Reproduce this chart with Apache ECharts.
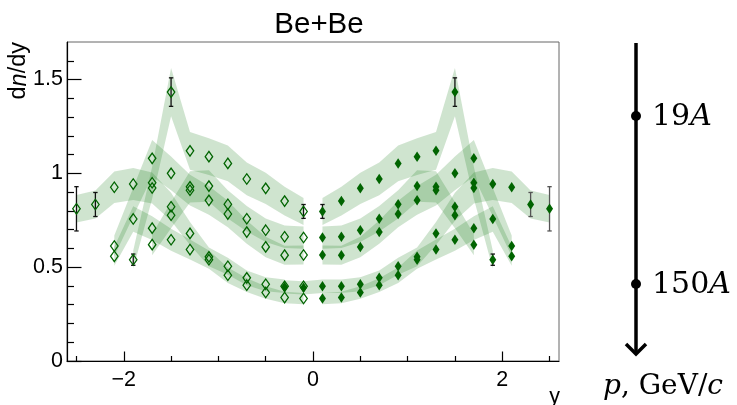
<!DOCTYPE html>
<html>
<head>
<meta charset="utf-8">
<script src="https://cdn.jsdelivr.net/npm/echarts@6/dist/echarts.min.js"></script>
<style>
  html, body { margin: 0; padding: 0; background: #fff; }
  #chart { width: 737px; height: 405px; }
</style>
</head>
<body>
<div id="chart"></div>
<script>
// Rapidity bin centres of the forward-hemisphere measurements
const rapidity = [0.1, 0.3, 0.5, 0.7, 0.9, 1.1, 1.3, 1.5, 1.7, 1.9, 2.1, 2.3, 2.5];

// dn/dy of the five data sets, aligned with rapidity (null = no point)
const curve1 = [0.797, 0.852, 0.920, 0.970, 1.053, 1.089, 1.120, 1.433, 0.950, 0.540, null, null, null];
const curve2 = [0.658, 0.662, 0.697, 0.758, 0.835, 0.932, 0.928, 0.777, 0.620, null, null, null, null];
const curve3 = [0.565, 0.564, 0.608, 0.687, 0.783, 0.856, 0.910, 1.000, 1.080, null, 0.613, null, null];
const curve4 = [0.398, 0.398, 0.409, 0.443, 0.505, 0.555, 0.680, 0.822, 0.922, 0.943, 0.926, 0.834, 0.811];
const curve5 = [0.333, 0.338, 0.365, 0.404, 0.457, 0.540, 0.594, 0.646, 0.708, 0.757, 0.558, null, null];

// Data set 4 is also measured slightly below midrapidity
const backwardRapidity = [-0.3, -0.1];
const curve4Backward = [0.395, 0.390];

// Statistical errors drawn as bars (null = no bar)
const curve1Err = [0.037, null, null, null, null, null, null, 0.076, null, 0.030, null, null, null];
const curve4Err = [null, null, null, null, null, null, null, null, null, null, null, 0.064, 0.118];

// Relative systematic uncertainty, drawn as the shaded band
const sysRel = 0.09;

// Axis ticks
const xMajorTicks = [-2, 0, 2];
const xMinorTicks = [-2.5, -1.5, -1, -0.5, 0.5, 1, 1.5, 2.5];
const yMajorTicks = [0, 0.5, 1, 1.5];
const yMinorTicks = [0.1, 0.2, 0.3, 0.4, 0.6, 0.7, 0.8, 0.9, 1.1, 1.2, 1.3, 1.4, 1.6];

// Beam momenta marked on the side scale
const momenta = ['19', '150'];

const markColor = '#006400';
const bandColor = 'rgba(0, 110, 0, 0.19)';
const sans = 'Liberation Sans, Arial, sans-serif';
const serif = 'DejaVu Serif, serif';

function pairs(xs, ys) {
  return xs.map((x, i) => [x, ys[i]]).filter(p => p[1] !== null);
}
function mirror(pts) {
  return pts.map(p => [-p[0], p[1]]);
}

const sets = [curve1, curve2, curve3, curve4, curve5];
const forward = sets.map(c => pairs(rapidity, c));
forward[3] = pairs(backwardRapidity, curve4Backward).concat(forward[3]);
const reflected = sets.map(c => mirror(pairs(rapidity, c)));

// bands: forward side and reflected side of each set
const bandSets = [];
sets.forEach((c, k) => {
  bandSets.push(forward[k]);
  let refl = pairs(rapidity, c);
  if (k === 3) refl = refl.filter(p => p[0] >= 0.3);
  bandSets.push(mirror(refl));
});

function bandSeries(pts) {
  return {
    type: 'custom',
    silent: true,
    z: 1,
    encode: { x: 0, y: 1 },
    data: pts,
    renderItem: function (params, api) {
      if (params.dataIndex !== 0) return null;
      const upper = pts.map(p => api.coord([p[0], p[1] * (1 + sysRel)]));
      const lower = pts.map(p => api.coord([p[0], p[1] * (1 - sysRel)])).reverse();
      return {
        type: 'polygon',
        shape: { points: upper.concat(lower) },
        style: { fill: bandColor }
      };
    }
  };
}

function errorData(xs, ys, es, sign) {
  const out = [];
  xs.forEach((x, i) => {
    if (es[i] !== null && ys[i] !== null) out.push([sign * x, ys[i], es[i]]);
  });
  return out;
}

function errorSeries(data, color) {
  return {
    type: 'custom',
    silent: true,
    z: 2,
    encode: { x: 0, y: 1 },
    data: data,
    renderItem: function (params, api) {
      const x = api.value(0), y = api.value(1), e = api.value(2);
      const top = api.coord([x, y + e]);
      const bot = api.coord([x, y - e]);
      const cap = 2.2;
      const st = { stroke: color, lineWidth: 1.3 };
      return {
        type: 'group',
        children: [
          { type: 'line', shape: { x1: top[0], y1: top[1], x2: bot[0], y2: bot[1] }, style: st },
          { type: 'line', shape: { x1: top[0] - cap, y1: top[1], x2: top[0] + cap, y2: top[1] }, style: st },
          { type: 'line', shape: { x1: bot[0] - cap, y1: bot[1], x2: bot[0] + cap, y2: bot[1] }, style: st }
        ]
      };
    }
  };
}

const filledPoints = [].concat(...forward);
const openPoints = [].concat(...reflected);

const errBlack = errorData(rapidity, curve1, curve1Err, 1)
  .concat(errorData(rapidity, curve1, curve1Err, -1))
  .concat(errorData(rapidity, curve4, curve4Err, -1));
const errGrey = errorData(rapidity, curve4, curve4Err, 1);

const series = bandSets.map(bandSeries);
series.push(errorSeries(errBlack, '#111'));
series.push(errorSeries(errGrey, '#555'));
series.push({
  type: 'scatter',
  z: 3,
  symbol: 'diamond',
  symbolSize: [7.5, 10.5],
  itemStyle: { color: 'rgba(0,0,0,0)', borderColor: markColor, borderWidth: 1.3, opacity: 1 },
  data: openPoints
});
series.push({
  type: 'scatter',
  z: 4,
  symbol: 'diamond',
  symbolSize: [7, 10.5],
  itemStyle: { color: markColor, opacity: 1 },
  data: filledPoints
});

const grid = { left: 67, right: 178, top: 42, bottom: 44 };
const minus = v => (v < 0 ? '\u2212' + Math.abs(v) : String(v));

const option = {
  animation: false,
  backgroundColor: '#fff',
  title: {
    text: 'Be+Be',
    left: 314,
    top: 5,
    textAlign: 'center',
    textStyle: { fontFamily: sans, fontSize: 29.5, fontWeight: 'normal', color: '#000' }
  },
  grid: Object.assign({ show: true, borderColor: '#666', borderWidth: 1 }, grid),
  xAxis: [
    {
      type: 'value', min: -2.6, max: 2.6, position: 'bottom',
      axisLine: { show: true, onZero: false, lineStyle: { color: '#000', width: 1.2 } },
      axisTick: { inside: true, length: 9.5, customValues: xMajorTicks, lineStyle: { color: '#000', width: 1.2 } },
      axisLabel: { customValues: xMajorTicks, formatter: minus, fontFamily: sans, fontSize: 21.5, color: '#000', margin: 8 },
      splitLine: { show: false }
    },
    {
      type: 'value', min: -2.6, max: 2.6, position: 'bottom',
      axisLine: { show: false, onZero: false },
      axisTick: { inside: true, length: 5, customValues: xMinorTicks, lineStyle: { color: '#000', width: 1.2 } },
      axisLabel: { show: false },
      splitLine: { show: false }
    }
  ],
  yAxis: [
    {
      type: 'value', min: 0, max: 1.7, position: 'left',
      axisLine: { show: true, onZero: false, lineStyle: { color: '#000', width: 1.2 } },
      axisTick: { inside: true, length: 14.5, customValues: yMajorTicks, lineStyle: { color: '#000', width: 1.2 } },
      axisLabel: { customValues: yMajorTicks, fontFamily: sans, fontSize: 21.5, color: '#000', margin: 4 },
      splitLine: { show: false }
    },
    {
      type: 'value', min: 0, max: 1.7, position: 'left',
      axisLine: { show: false, onZero: false },
      axisTick: { inside: true, length: 7, customValues: yMinorTicks, lineStyle: { color: '#000', width: 1.2 } },
      axisLabel: { show: false },
      splitLine: { show: false }
    }
  ],
  graphic: [
    // axis titles
    {
      type: 'text', x: 19, y: 42, rotation: Math.PI / 2,
      style: {
        text: '{r|d}{i|n}{r|/dy}',
        align: 'right', verticalAlign: 'middle',
        rich: {
          r: { fontFamily: sans, fontSize: 23.5, fill: '#000' },
          i: { fontFamily: sans, fontSize: 23.5, fontStyle: 'italic', fill: '#000' }
        }
      }
    },
    {
      type: 'text', x: 560, y: 397,
      style: { text: 'y', fontFamily: sans, fontSize: 21.5, fill: '#000', align: 'right', verticalAlign: 'middle' }
    },
    // momentum scale
    { type: 'line', shape: { x1: 636, y1: 43, x2: 636, y2: 354 }, style: { stroke: '#000', lineWidth: 3.5 } },
    { type: 'polyline', shape: { points: [[626, 344], [636, 354], [646, 344]] }, style: { stroke: '#000', lineWidth: 3.5, fill: null } },
    { type: 'circle', shape: { cx: 636, cy: 116, r: 5 }, style: { fill: '#000' } },
    { type: 'circle', shape: { cx: 636, cy: 284, r: 5 }, style: { fill: '#000' } },
    {
      type: 'text', x: 652, y: 117,
      style: {
        text: '{n|' + momenta[0] + '}{a|A}', verticalAlign: 'middle', align: 'left',
        rich: {
          n: { fontFamily: serif, fontSize: 30, fill: '#000' },
          a: { fontFamily: serif, fontSize: 30, fontStyle: 'italic', fill: '#000' }
        }
      }
    },
    {
      type: 'text', x: 652, y: 285,
      style: {
        text: '{n|' + momenta[1] + '}{a|A}', verticalAlign: 'middle', align: 'left',
        rich: {
          n: { fontFamily: serif, fontSize: 30, fill: '#000' },
          a: { fontFamily: serif, fontSize: 30, fontStyle: 'italic', fill: '#000' }
        }
      }
    },
    {
      type: 'text', x: 603, y: 387,
      style: {
        text: '{i|p}{r|, GeV/}{i|c}', verticalAlign: 'middle', align: 'left',
        rich: {
          r: { fontFamily: serif, fontSize: 28, fill: '#000' },
          i: { fontFamily: serif, fontSize: 28, fontStyle: 'italic', fill: '#000' }
        }
      }
    }
  ],
  series: series
};

const chart = echarts.init(document.getElementById('chart'), null, { renderer: 'canvas' });
chart.setOption(option);
</script>
</body>
</html>
